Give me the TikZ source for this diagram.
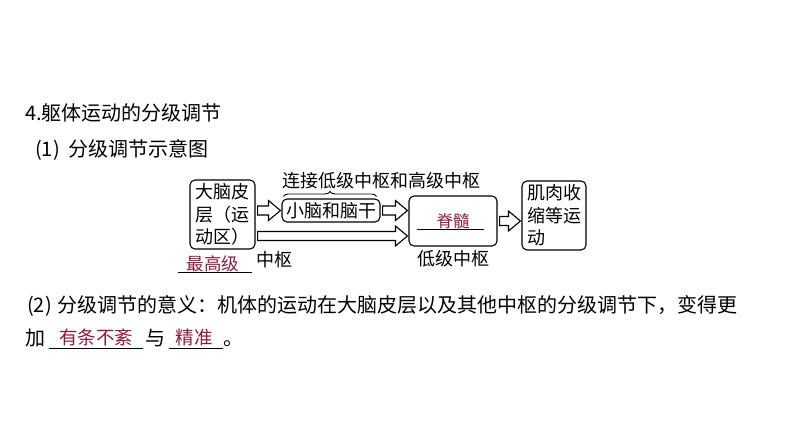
\documentclass[tikz,border=0pt]{standalone}
\usepackage{fontspec}
\setmainfont{Noto Sans CJK SC}
\usetikzlibrary{positioning,calc,decorations.pathreplacing}
\definecolor{answerred}{RGB}{140,28,62}

% hollow block arrow from #1 to the x of #2
\newcommand{\fatarrow}[2]{%
  \draw[fat] let \p1=(#1), \p2=(#2) in
    (\x1+2pt,\y1+4.5pt) -- (\x2-13pt,\y1+4.5pt) -- (\x2-13pt,\y1+10pt) -- (\x2-1pt,\y1)
    -- (\x2-13pt,\y1-10pt) -- (\x2-13pt,\y1-4.5pt) -- (\x1+2pt,\y1-4.5pt) -- cycle;}

\begin{document}
\begin{tikzpicture}[x=1pt,y=-1pt]
\tikzstyle{box} = [draw, rounded corners=5pt, line width=1.1pt, inner sep=2pt, font=\fontsize{18}{22.5}\selectfont]
\tikzstyle{txt} = [inner sep=0pt, font=\fontsize{18}{22.5}\selectfont]
\tikzstyle{para} = [inner sep=0pt, font=\fontsize{20}{24}\selectfont]
\tikzstyle{answer} = [inner sep=0pt, text=answerred, font=\fontsize{18.5}{22}\selectfont]
\tikzstyle{fat} = [draw, line width=1.1pt, fill=white, line join=miter]
\tikzstyle{blank} = [line width=0.9pt]
\useasboundingbox (0,0) rectangle (794,447);

% headings
\node [para,anchor=base west] (title) at (25,120) {4.躯体运动的分级调节};
\node [para,anchor=base west] (sub) at (35,156) {(1)\hspace{0.45em}分级调节示意图};

% diagram
\node [box,minimum width=65pt,minimum height=69pt,align=left] (cortex) at (222.5,214.5) {大脑皮\\层（运\\动区）};
\node [box,minimum width=98pt,minimum height=23pt] (brain) at (331,210.5) {小脑和脑干};
\node [box,minimum width=88pt,minimum height=50pt] (spinal) at (453,221) {};
\node [box,minimum width=64pt,minimum height=69pt,align=left] (muscle) at (554,215.5) {肌肉收\\缩等运\\动};
\node [txt] (link) at (381,181) {连接低级中枢和高级中枢};
\draw [line width=0.9pt,decorate,decoration={brace,amplitude=5pt}] ($(brain.north west)+(2,-2)$) -- ($(brain.north east)+(-4,-2)$);
\node [txt,below=4pt of spinal] (lowlbl) {低级中枢};
\node [answer,font=\fontsize{16.5}{20}\selectfont] (cord) at (453,221) {脊髓};
\draw [blank] ($(cord.base west)+(-19,2)$) -- ($(cord.base east)+(14,2)$);
\node [txt] (zhongshu) at (274,260) {中枢};
\node [answer,anchor=base,font=\fontsize{17.5}{20}\selectfont] (top) at (213,270) {最高级};
\draw [blank] ($(top.base west)+(-9,2)$) -- ($(top.base east)+(13,2)$);

% arrows
\coordinate (low) at ($(cortex.east)+(0,21.5)$);
\fatarrow{cortex.east |- brain.west}{brain.west}
\fatarrow{brain.east}{spinal.west |- brain.east}
\fatarrow{low}{spinal.west |- low}
\fatarrow{spinal.east}{muscle.west |- spinal.east}

% meaning
\node [para,anchor=base west] (meaning) at (27,312.5) {(2)\hspace{0.3em}分级调节的意义：机体的运动在大脑皮层以及其他中枢的分级调节下，变得更};
\node [para,anchor=base west] (jia) at (25,345) {加};
\node [para,anchor=base west] (yu) at (145,345) {与};
\node [para,anchor=base west] (stop) at (223,345) {。};
\node [answer,anchor=base] (ans1) at (96,344) {有条不紊};
\node [answer,anchor=base] (ans2) at (194,344) {精准};
\draw [blank] ($(jia.base east)+(4,3)$) -- ($(yu.base west)+(-2,3)$);
\draw [blank] ($(yu.base east)+(4,3)$) -- ($(stop.base west)+(0,3)$);
\end{tikzpicture}
\end{document}
